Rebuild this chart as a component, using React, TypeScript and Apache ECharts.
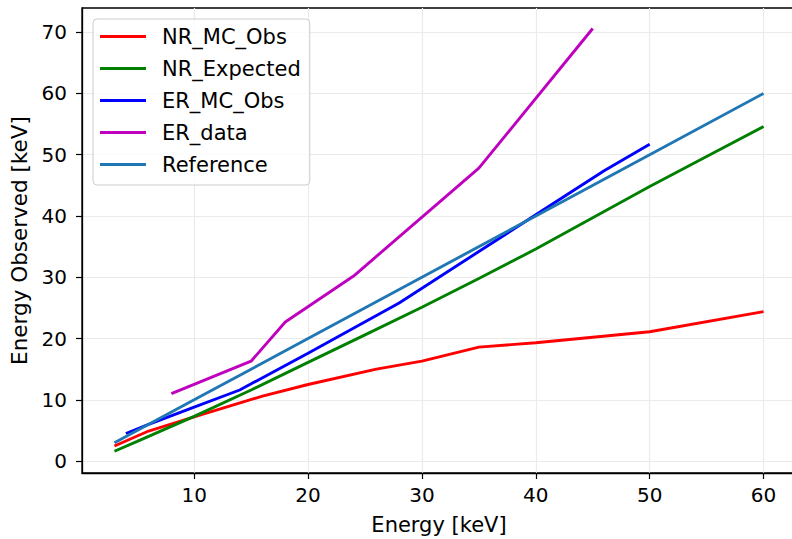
import React, { useEffect, useRef } from "react";
import * as echarts from "echarts";

// ---- data ----
const xTicks = [10, 20, 30, 40, 50, 60];
const yTicks = [0, 10, 20, 30, 40, 50, 60, 70];

const nrMcObsE = [3, 6, 10, 16, 20, 26, 30, 35, 40, 50, 60];
const nrMcObsV = [2.45, 4.9, 7.2, 10.6, 12.5, 15.0, 16.3, 18.6, 19.3, 21.1, 24.4];

const nrExpE = [3, 5, 10, 15, 20, 25, 30, 35, 40, 45, 50, 55, 60];
const nrExpV = [1.6, 3.2, 7.3, 11.6, 16.1, 20.6, 25.1, 29.8, 34.6, 39.7, 44.8, 49.7, 54.6];

const erMcObsE = [4, 6, 10, 14, 20, 28, 35, 40, 46, 50];
const erMcObsV = [4.5, 6.0, 8.8, 11.6, 17.6, 25.8, 34.2, 40.2, 47.4, 51.7];

const erDataE = [8, 15, 18, 24, 35, 45];
const erDataV = [11.0, 16.3, 22.7, 30.2, 47.8, 70.6];

const refE = [3, 10, 20, 30, 40, 50, 60];
const refV = [3, 10, 20, 30, 40, 50, 60];

const seriesNames = ["NR_MC_Obs", "NR_Expected", "ER_MC_Obs", "ER_data", "Reference"];
const seriesColors = ["#ff0000", "#008000", "#0000ff", "#bf00bf", "#1f77b4"];
const seriesE = [nrMcObsE, nrExpE, erMcObsE, erDataE, refE];
const seriesV = [nrMcObsV, nrExpV, erMcObsV, erDataV, refV];

const FONT = "DejaVu Sans";

export default function App() {
  const ref = useRef<HTMLDivElement>(null);
  useEffect(() => {
    if (!ref.current) return;
    const chart = echarts.init(ref.current, null, { renderer: "svg" });
    const series = seriesNames.map((name, i) => ({
      name,
      type: "line",
      data: seriesE[i].map((e, j) => [e, seriesV[i][j]]),
      showSymbol: false,
      symbol: "none",
      silent: true,
      lineStyle: { color: seriesColors[i], width: 2.9 },
      itemStyle: { color: seriesColors[i] },
      emphasis: { disabled: true },
    }));
    chart.setOption({
      animation: false,
      backgroundColor: "#ffffff",
      grid: {
        left: 82,
        top: 8,
        width: 714,
        height: 465,
        show: true,
        borderColor: "#000",
        borderWidth: 1.3,
        backgroundColor: "transparent",
        containLabel: false,
        outerBoundsMode: "none",
      },
      legend: {
        orient: "vertical",
        left: 93,
        top: 19,
        icon: "rect",
        itemWidth: 46,
        itemHeight: 3,
        itemGap: 11,
        padding: [7, 9, 10, 7],
        backgroundColor: "rgba(255,255,255,0.8)",
        borderColor: "#cccccc",
        borderWidth: 1,
        borderRadius: 4,
        textStyle: { fontSize: 21, color: "#000", fontFamily: FONT, padding: [0, 0, 0, 11] },
        data: seriesNames,
        selectedMode: false,
      },
      xAxis: {
        type: "value",
        min: 0.15,
        max: 62.85,
        name: "Energy [keV]",
        nameLocation: "middle",
        nameGap: 41,
        nameTextStyle: { fontSize: 21, color: "#000", fontFamily: FONT },
        axisLine: { show: true, onZero: false, lineStyle: { color: "#000", width: 1.3 } },
        axisTick: { show: true, length: 6, customValues: xTicks, lineStyle: { color: "#000", width: 1.2 } },
        axisLabel: { customValues: xTicks, margin: 12, fontSize: 20, color: "#000", fontFamily: FONT },
        splitLine: { show: true, lineStyle: { color: "#ebebeb", width: 1.2 } },
      },
      yAxis: {
        type: "value",
        min: -1.95,
        max: 73.95,
        name: "Energy Observed [keV]",
        nameLocation: "middle",
        nameRotate: 90,
        nameGap: 52,
        nameTextStyle: { fontSize: 21.5, color: "#000", fontFamily: FONT },
        axisLine: { show: true, onZero: false, lineStyle: { color: "#000", width: 1.3 } },
        axisTick: { show: true, length: 6, customValues: yTicks, lineStyle: { color: "#000", width: 1.2 } },
        axisLabel: { customValues: yTicks, margin: 15, fontSize: 20, color: "#000", fontFamily: FONT },
        splitLine: { show: true, lineStyle: { color: "#ebebeb", width: 1.2 } },
      },
      series,
    });
    return () => chart.dispose();
  }, []);
  return (
    <div
      ref={ref}
      style={{ position: "absolute", left: 0, top: 0, width: 792, height: 539, background: "#fff" }}
    />
  );
}
